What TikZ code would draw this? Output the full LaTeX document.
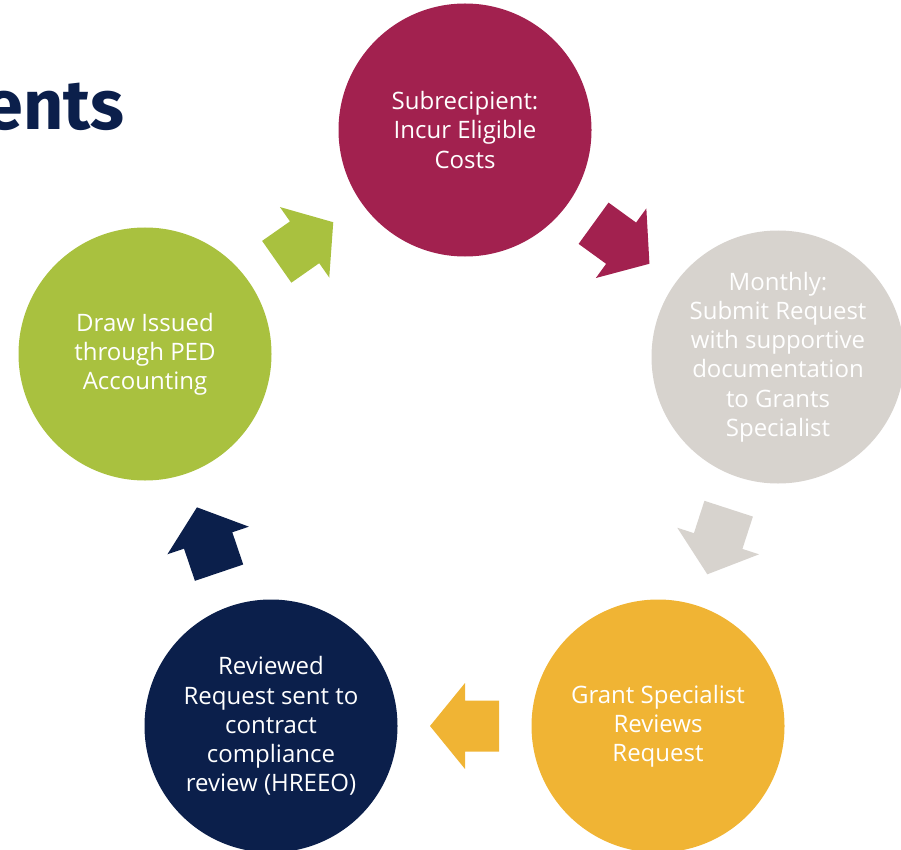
\documentclass[tikz,border=0pt]{standalone}
\usepackage{fontspec}
\setmainfont{Open Sans}
\newfontfamily\headfont{Fira Sans}
\usepackage{tikz}

\definecolor{berry}{HTML}{A2214F}
\definecolor{stone}{HTML}{D7D3CE}
\definecolor{mustard}{HTML}{F0B434}
\definecolor{midnight}{HTML}{0B1F4B}
\definecolor{leaf}{HTML}{A9C13F}

\begin{document}
\begin{tikzpicture}[x=1pt, y=-1pt,
  stage/.style={circle, minimum size=253pt, inner sep=0pt, text=white, align=center, font=\fontsize{24}{29.2}\selectfont},
  turn/.pic={\fill (-34.5,-25.5) -- (-0.5,-25.5) -- (-0.5,-43) -- (34.5,0) -- (-0.5,43) -- (-0.5,25.5) -- (-34.5,25.5) -- cycle;}]
\useasboundingbox (0,0) rectangle (901,850);

\node [anchor=base east, inner sep=0pt, text=midnight, font=\headfont\bfseries\fontsize{70}{70}\selectfont] (title) at (125,130) {ents};

\node [stage, fill=berry] (incur) at (465,130) {Subrecipient:\\Incur Eligible\\Costs};
\node [stage, fill=stone] (submit) at (778,357) {Monthly:\\Submit Request\\with supportive\\documentation\\to Grants\\Specialist};
\node [stage, fill=mustard] (review) at (658,726) {Grant Specialist\\Reviews\\Request};
\node [stage, fill=midnight] (comply) at (271,726) {Reviewed\\Request sent to\\contract\\compliance\\review (HREEO)};
\node [stage, fill=leaf] (issue) at (145,354) {Draw Issued\\through PED\\Accounting};

\path (incur) -- (submit) pic [pos=.5, sloped, allow upside down, fill=berry] {turn};
\path (submit) -- (review) pic [pos=.5, sloped, allow upside down, fill=stone] {turn};
\path (review) -- (comply) pic [pos=.5, sloped, allow upside down, fill=mustard] {turn};
\path (comply) -- (issue) pic [pos=.5, sloped, allow upside down, fill=midnight] {turn};
\path (issue) -- (incur) pic [pos=.5, sloped, allow upside down, fill=leaf] {turn};
\end{tikzpicture}
\end{document}
